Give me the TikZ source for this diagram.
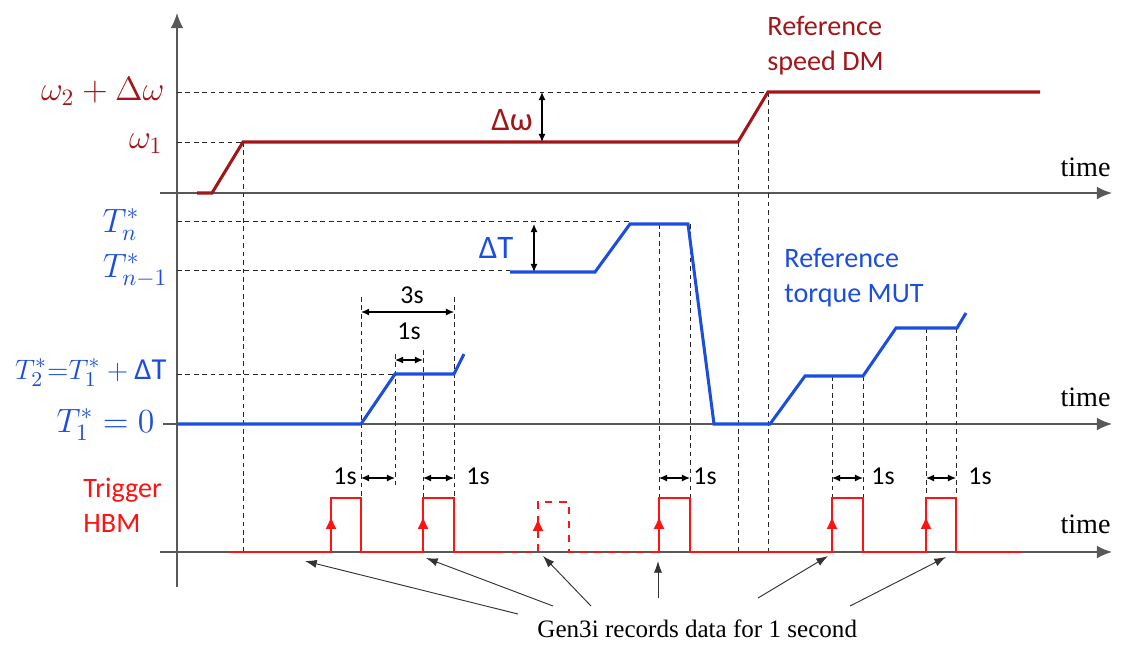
\documentclass[tikz,border=0pt]{standalone}
\usepackage{fontspec}
\setmainfont{Liberation Serif}
\setsansfont{Carlito}
\usetikzlibrary{arrows.meta}
\definecolor{speedred}{RGB}{162,22,26}
\definecolor{torqueblue}{RGB}{28,78,222}
\definecolor{trigred}{RGB}{255,18,18}
\definecolor{axisgray}{RGB}{88,88,88}

\begin{document}
\begin{tikzpicture}[x=0.015cm, y=-0.015cm,
  axis/.style={axisgray, line width=0.7pt, -{Latex[length=6.5pt,width=5.5pt]}},
  guide/.style={black!85, line width=0.4pt, dash pattern=on 2pt off 1.6pt},
  spd/.style={speedred, line width=1.3pt},
  trq/.style={torqueblue, line width=1.3pt},
  trg/.style={trigred, line width=1.1pt},
  trgup/.style={trigred, line width=1.1pt, -{Latex[length=5.5pt,width=4.8pt]}},
  dim/.style={<->, >={Latex[length=3.5pt,width=3pt]}, line width=0.5pt},
  callout/.style={->, >={Latex[length=5pt,width=3.5pt]}, line width=0.4pt, black!80},
  mlbl/.style={font=\fontsize{14}{16}\selectfont, anchor=base east, inner sep=0pt},
  tlbl/.style={font=\sffamily\fontsize{12}{15}\selectfont, align=left, anchor=north west, inner sep=0pt},
  slbl/.style={font=\sffamily\fontsize{11}{13}\selectfont, inner sep=0pt},
  tm/.style={font=\fontsize{12}{14}\selectfont, inner sep=0pt}]
\useasboundingbox (0,0) rectangle (1126,650);

%axes
\draw[axis] (177,587) -- (177,13);
\draw[axis] (160,193) -- (1112,193);
\draw[axis] (163,424) -- (1112,424);
\draw[axis] (160,552) -- (1112,552);
\draw (1111,176) node[tm, anchor=base east] (timeA) {time};
\draw (1111,406) node[tm, anchor=base east] (timeB) {time};
\draw (1111,533) node[tm, anchor=base east] (timeC) {time};

%dashed guides
\draw[guide] (177,92) -- (768,92);
\draw[guide] (177,142) -- (243,142);
\draw[guide] (177,221) -- (630,221);
\draw[guide] (177,270) -- (510,270);
\draw[guide] (177,374) -- (395,374);
\draw[guide] (243,142) -- (243,552);
\draw[guide] (738,142) -- (738,552);
\draw[guide] (768,92) -- (768,552);
\draw[guide] (361,297) -- (361,498);
\draw[guide] (454,297) -- (454,498);
\draw[guide] (395,354) -- (395,487);
\draw[guide] (423,350) -- (423,498);
\draw[guide] (659,224) -- (659,498);
\draw[guide] (690,224) -- (690,498);
\draw[guide] (832,376) -- (832,498);
\draw[guide] (863,376) -- (863,498);
\draw[guide] (926,328) -- (926,498);
\draw[guide] (956,328) -- (956,498);

%speed DM
\draw[spd] (197,193) -- (212,193) -- (243,142) -- (738,142) -- (768,92) -- (1040,92);
\draw (165,100) node[mlbl, speedred] (wtwo) {$\omega_2+\Delta\omega$};
\draw (163,148) node[mlbl, speedred] (wone) {$\omega_1$};
\draw (767,16) node[tlbl, speedred] (refspeed) {Reference\\speed DM};
\draw[dim] (542,92) -- (542,142);
\draw (512,120) node[font=\sffamily\fontsize{14}{16}\selectfont, speedred] (dw) {Δω};

%torque MUT
\draw[trq] (177,424) -- (361,424) -- (395,374) -- (454,374) -- (464,354);
\draw[trq] (510,272) -- (595,272) -- (630,224) -- (688,224) -- (714,424) -- (770,424) -- (805,376) -- (863,376) -- (896,328) -- (957,328) -- (966,313);
\draw (140,232) node[mlbl, torqueblue] (tn) {$T_n^*$};
\draw (168,277) node[mlbl, torqueblue] (tnm) {$T_{n-1}^*$};
\draw (167,379) node[mlbl, torqueblue, font=\fontsize{13}{15}\selectfont] (ttwo) {$T_2^*{=}T_1^*+\mbox{\sffamily ΔT}$};
\draw (155,432) node[mlbl, torqueblue] (tone) {$T_1^*=0$};
\draw (784,248) node[tlbl, torqueblue] (reftorque) {Reference\\torque MUT};
\draw[dim] (534,224) -- (534,272);
\draw (496,248) node[font=\sffamily\fontsize{14}{16}\selectfont, torqueblue] (dt) {ΔT};
\draw[dim] (361,312) -- (454,312);
\draw (412,295) node[slbl] (three) {3s};
\draw[dim] (395,360) -- (423,360);
\draw (409,331) node[slbl] (onetop) {1s};

%trigger HBM
\draw[trg] (230,552) -- (331,552) -- (331,498) -- (361,498) -- (361,552) -- (423,552) -- (423,498) -- (454,498) -- (454,552) -- (497,552);
\draw[trg, dashed] (497,552) -- (538,552) -- (538,502) -- (569,502) -- (569,552) -- (655,552);
\draw[trg] (655,552) -- (659,552) -- (659,498) -- (690,498) -- (690,552) -- (832,552) -- (832,498) -- (863,498) -- (863,552) -- (926,552) -- (926,498) -- (956,498) -- (956,552) -- (1022,552);
\draw[trgup] (331,552) -- (331,516);
\draw[trgup] (423,552) -- (423,516);
\draw[trgup, dashed] (538,552) -- (538,518);
\draw[trgup] (659,552) -- (659,516);
\draw[trgup] (832,552) -- (832,516);
\draw[trgup] (926,552) -- (926,516);
\draw (83,478) node[tlbl, trigred] (trig) {Trigger\\HBM};
\draw[dim] (361,478) -- (395,478);
\draw (345,476) node[slbl] (oneA) {1s};
\draw[dim] (423,478) -- (454,478);
\draw (478,476) node[slbl] (oneB) {1s};
\draw[dim] (659,478) -- (690,478);
\draw (705,476) node[slbl] (oneC) {1s};
\draw[dim] (832,478) -- (863,478);
\draw (883,476) node[slbl] (oneD) {1s};
\draw[dim] (926,478) -- (956,478);
\draw (980,476) node[slbl] (oneE) {1s};

%Gen3i
\draw (537,637) node[tm, anchor=base west, font=\fontsize{10.7}{13}\selectfont] (gen) {Gen3i records data for 1 second};
\coordinate (gA) at (518,614);
\coordinate (gB) at (553,606);
\coordinate (gC) at (591,606);
\coordinate (gD) at (658,598);
\coordinate (gE) at (758,598);
\coordinate (gF) at (850,606);
\coordinate (pA) at (305,561);
\coordinate (pB) at (426,558);
\coordinate (pC) at (543,556);
\coordinate (pD) at (658,561);
\coordinate (pE) at (828,556);
\coordinate (pF) at (946,557);
\draw[callout] (gA) -- (pA);
\draw[callout] (gB) -- (pB);
\draw[callout] (gC) -- (pC);
\draw[callout] (gD) -- (pD);
\draw[callout] (gE) -- (pE);
\draw[callout] (gF) -- (pF);

\end{tikzpicture}
\end{document}
